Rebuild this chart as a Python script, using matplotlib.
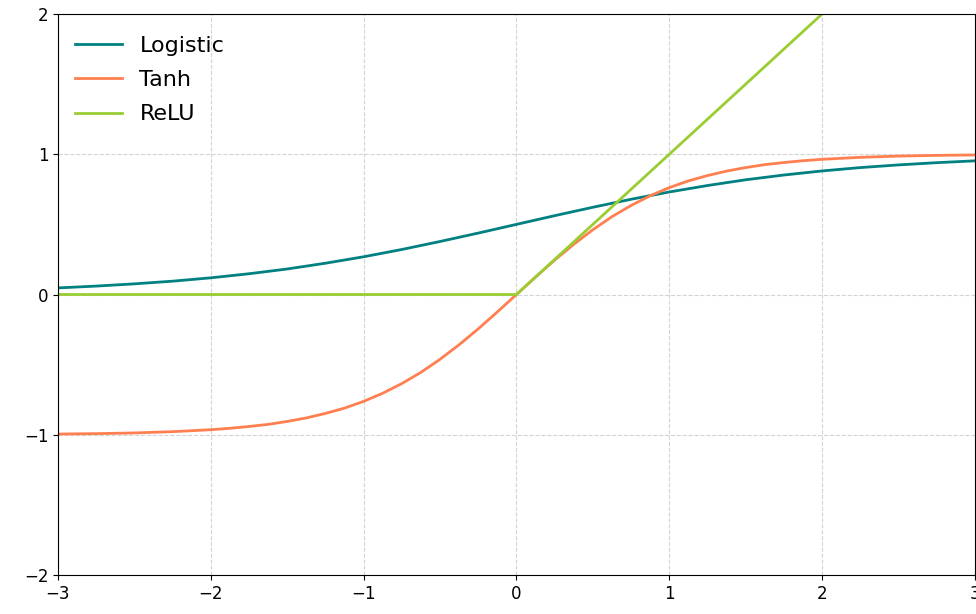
import matplotlib
matplotlib.use('Agg')
import matplotlib.pyplot as plt

# values
xs = [-3.0, -2.75, -2.5, -2.25, -2.0, -1.75, -1.5, -1.25, -1.0, -0.75, -0.5, -0.25,
      0.0, 0.25, 0.5, 0.75, 1.0, 1.25, 1.5, 1.75, 2.0, 2.25, 2.5, 2.75, 3.0]
logistic = [0.047, 0.060, 0.076, 0.095, 0.119, 0.148, 0.182, 0.223, 0.269, 0.321, 0.378, 0.438,
            0.500, 0.562, 0.622, 0.679, 0.731, 0.777, 0.818, 0.852, 0.881, 0.905, 0.924, 0.940, 0.953]
tanh_x = [-3.0, -2.75, -2.5, -2.25, -2.0, -1.875, -1.75, -1.625, -1.5, -1.375, -1.25, -1.125,
          -1.0, -0.875, -0.75, -0.625, -0.5, -0.375, -0.25, -0.125, 0.0,
          0.125, 0.25, 0.375, 0.5, 0.625, 0.75, 0.875, 1.0,
          1.125, 1.25, 1.375, 1.5, 1.625, 1.75, 1.875, 2.0, 2.25, 2.5, 2.75, 3.0]
tanh = [-0.995, -0.992, -0.987, -0.978, -0.964, -0.954, -0.941, -0.926, -0.905, -0.880, -0.848, -0.810,
        -0.762, -0.704, -0.635, -0.555, -0.462, -0.358, -0.245, -0.124, 0.000,
        0.124, 0.245, 0.358, 0.462, 0.555, 0.635, 0.704, 0.762,
        0.810, 0.848, 0.880, 0.905, 0.926, 0.941, 0.954, 0.964, 0.978, 0.987, 0.992, 0.995]
relu_x = [-3.0, 0.0, 3.0]
relu = [0.0, 0.0, 3.0]

fig = plt.figure(figsize=(9.76, 6.14), dpi=100)
ax = fig.add_axes([0.0594, 0.0635, 0.9395, 0.9137])

ax.plot(xs, logistic, color='teal', lw=2, label='Logistic')
ax.plot(tanh_x, tanh, color='coral', lw=2, label='Tanh')
ax.plot(relu_x, relu, color='yellowgreen', lw=2, label='ReLU')

ax.set_xlim(-3, 3)
ax.set_ylim(-2, 2)
ax.set_xticks([-3, -2, -1, 0, 1, 2, 3])
ax.set_yticks([-2, -1, 0, 1, 2])
ax.tick_params(labelsize=12)
ax.grid(True, linestyle='--', color='lightgray')
ax.legend(loc='upper left', bbox_to_anchor=(-0.0033, 0.9964), frameon=False,
          fontsize=16, handlelength=2.1, labelspacing=0.64)

fig.savefig('out.png', dpi=100)
